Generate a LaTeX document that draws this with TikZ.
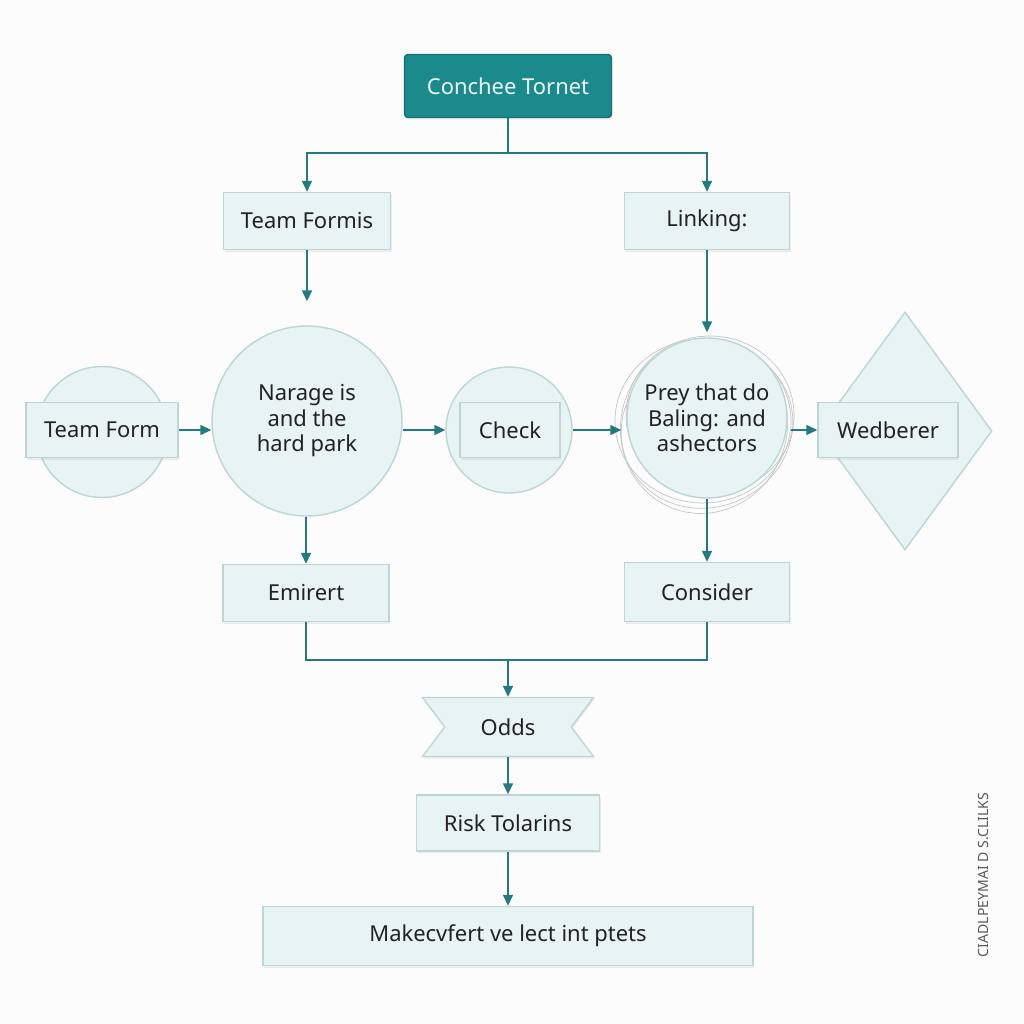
\documentclass[tikz,border=0pt]{standalone}
\usepackage{fontspec}
\setmainfont{Noto Sans}
\usepackage{tikz}
\usetikzlibrary{arrows.meta,calc,positioning,shapes.geometric,shapes.symbols,shadows}
\definecolor{tealdark}{HTML}{1B8A8C}
\definecolor{tealline}{HTML}{237A80}
\definecolor{boxfill}{HTML}{E8F3F3}
\definecolor{boxedge}{HTML}{BCD6D6}
\definecolor{inktext}{HTML}{222222}
\tikzset{
  box/.style={draw=boxedge,fill=boxfill,thick,text=inktext,font=\fontsize{12.5}{15}\selectfont,
    inner sep=2pt,drop shadow={opacity=0.12,shadow xshift=0.6pt,shadow yshift=-1.2pt}},
  headbox/.style={box,draw=tealdark!80!black,fill=tealdark,text=white!92!tealdark,rounded corners=2pt},
  ring/.style={circle,draw=boxedge,fill=boxfill,thick,text=inktext,align=center,
    font=\fontsize{12.5}{14.5}\selectfont,inner sep=0pt},
  kite/.style={diamond,draw=boxedge,fill=boxfill,thick,inner sep=0pt},
  flag/.style={box,signal,signal to=nowhere,signal from=west and east,signal pointer angle=106},
  link/.style={thick,tealline},
  arr/.style={link,-{Triangle[length=2.2mm,width=2mm]}},
  sketch/.style={draw=gray!45,line width=0.4pt},
}
\begin{document}
\begin{tikzpicture}[x=0.02cm,y=-0.02cm]
    \useasboundingbox[fill=white!98!gray] (0,0) rectangle (1024,1024);
    % ---------------- top ----------------
    \node[headbox,minimum width=4.14cm,minimum height=1.26cm] (head) at (508,86) {Conchee Tornet};
    \node[box,minimum width=3.34cm,minimum height=1.14cm] (formis) at (307,221) {Team Formis};
    \node[box,minimum width=3.30cm,minimum height=1.14cm] (linking) at (707,221) {Linking:};
    \coordinate (split) at (508,153);
    \draw[link] (head.south) -- (split);
    \draw[arr] (split) -| (formis.north);
    \draw[arr] (split) -| (linking.north);
    % ---------------- middle row ----------------
    \node[ring,minimum size=2.62cm] (leftring) at (102,432) {};
    \node[box,minimum width=3.04cm,minimum height=1.10cm] (teamform) at (102,430) {Team Form};
    \node[ring,minimum size=3.80cm] (narage) at (307,421) {Narage is\\and the\\hard park};
    \node[ring,minimum size=2.52cm] (checkring) at (509,430) {};
    \node[box,minimum width=2.00cm,minimum height=1.10cm] (check) at (510,430) {Check};
    % sketchy outlines round the right circle
    \draw[sketch] (703,421) ellipse [x radius=88,y radius=82];
    \draw[sketch,rotate around={25:(707,427)}] (707,427) ellipse [x radius=87,y radius=80];
    \draw[sketch,rotate around={-20:(704,426)}] (704,426) ellipse [x radius=83,y radius=88];
    \draw[sketch] (710,415) ellipse [x radius=84,y radius=79];
    \node[ring,minimum size=3.20cm] (prey) at (707,418) {Prey that do\\Baling: and\\ashectors};
    \node[kite,minimum width=3.48cm,minimum height=4.76cm] (kite) at (905,431) {};
    \node[box,minimum width=2.80cm,minimum height=1.10cm] (wedberer) at (888,430) {Wedberer};
    \draw[arr] (formis.south) -- ([yshift=0.48cm]formis.south |- narage.north);
    \draw[arr] (linking.south) -- ([yshift=0.10cm]prey.north);
    \draw[arr] (teamform.east) -- (teamform.east -| narage.west);
    \draw[arr] (narage.east |- check) -- (checkring.west |- check);
    \draw[arr] (checkring.east |- check) -- ([xshift=-0.1cm]prey.west |- check);
    \draw[arr] ([xshift=0.06cm]prey.east |- wedberer) -- (wedberer.west);
    % ---------------- lower ----------------
    \node[box,minimum width=3.32cm,minimum height=1.14cm] (emirert) at (306,593) {Emirert};
    \node[box,minimum width=3.30cm,minimum height=1.18cm] (consider) at (707,592) {Consider};
    \draw[arr] (narage.south -| emirert.north) -- (emirert.north);
    \draw[arr] (prey.south) -- (consider.north);
    \coordinate (merge) at (508,660);
    \draw[link] (emirert.south) |- (merge);
    \draw[link] (consider.south) |- (merge);
    \node[flag,minimum width=3.42cm,minimum height=1.18cm] (odds) at (508,727) {Odds};
    \draw[arr] (merge) -- (odds.north);
    \node[box,minimum width=3.66cm,minimum height=1.12cm] (risk) at (508,823) {Risk Tolarins};
    \draw[arr] (odds.south) -- (risk.north);
    \node[box,minimum width=9.80cm,minimum height=1.18cm] (make) at (508,936) {Makecvfert ve lect int ptets};
    \draw[arr] (risk.south) -- (make.north);
    % side caption
    \node[rotate=90,text=gray!70!black,font=\fontsize{8}{9}\selectfont] (side) at (983,875) {CIADLPEYMAI D S.CLILKS};
\end{tikzpicture}
\end{document}
